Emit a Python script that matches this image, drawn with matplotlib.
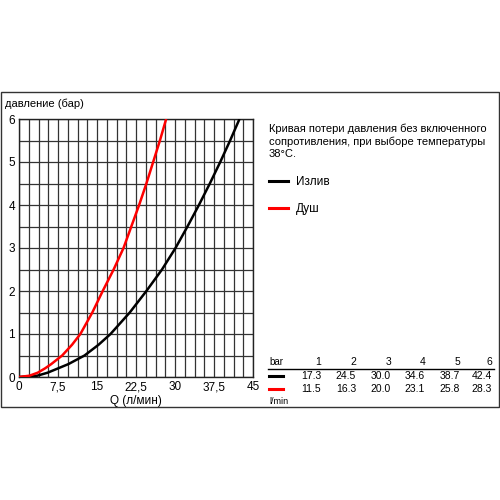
import numpy as np
import matplotlib
matplotlib.use("Agg")
import matplotlib.pyplot as plt
from matplotlib.patches import Rectangle
from matplotlib.lines import Line2D

plt.rcParams['font.family'] = ['Liberation Sans', 'DejaVu Sans']

# curve points (pressure in bar vs flow in l/min)
pressure = [0, 0.03, 0.1, 0.2, 0.3, 0.5, 0.75, 1, 1.5, 2, 2.5, 3, 3.5, 4, 4.5, 5, 5.5, 6]
q_spout = [0, 3.5, 5.5, 7.5, 9.5, 12.6, 15.3, 17.6, 21.3, 24.5, 27.5, 30.1, 32.4, 34.6, 36.7, 38.7, 40.6, 42.4]
q_shower = [0, 2.0, 3.6, 5.0, 6.2, 8.3, 10.2, 11.8, 14.1, 16.1, 18.2, 20.1, 21.6, 23.1, 24.5, 25.8, 27.1, 28.3]

# table on the right
table_bar = ['1', '2', '3', '4', '5', '6']
table_spout = ['17.3', '24.5', '30.0', '34.6', '38.7', '42.4']
table_shower = ['11.5', '16.3', '20.0', '23.1', '25.8', '28.3']

x_ticks = [0, 7.5, 15, 22.5, 30, 37.5, 45]
x_ticklabels = ['0', '7,5', '15', '22,5', '30', '37,5', '45']
y_ticks = [0, 1, 2, 3, 4, 5, 6]

W, H = 500, 500
fig = plt.figure(figsize=(5, 5), dpi=100)

def fx(px):
    return px / W

def fy(py):
    return 1 - py / H

# outer frame
fig.patches.append(Rectangle((fx(0.5), fy(407)), fx(498.5), (407 - 92) / H,
                             transform=fig.transFigure, fill=False,
                             edgecolor='#333333', linewidth=1.0))

ax = fig.add_axes([fx(19), fy(377), fx(253 - 19), (377 - 119) / H])
ax.set_xlim(0, 45)
ax.set_ylim(0, 6)

for gx in np.arange(0, 45.01, 1.875):
    ax.axvline(gx, color='#333333', linewidth=0.9, zorder=1)
for gy in np.arange(0, 6.01, 0.5):
    ax.axhline(gy, color='#333333', linewidth=0.9, zorder=1)

ax.plot(q_spout, pressure, color='black', linewidth=1.8, zorder=3, solid_capstyle='butt')
ax.plot(q_shower, pressure, color='red', linewidth=1.8, zorder=4, solid_capstyle='butt')

ax.set_xticks(x_ticks)
ax.set_xticklabels(x_ticklabels)
ax.set_yticks(y_ticks)
ax.tick_params(length=0, labelsize=8.5, pad=3)
for s in ax.spines.values():
    s.set_linewidth(1.0)
    s.set_color('#222222')
ax.set_xlabel('Q (л/мин)', fontsize=8.5, labelpad=1)

fig.text(fx(5), fy(104), 'давление (бар)', fontsize=8, va='center', ha='left')

# description and legend
fig.text(fx(269), fy(141), 'Кривая потери давления без включенного\nсопротивления, при выборе температуры\n38°C.',
         fontsize=8, va='center', ha='left', linespacing=1.3)
fig.add_artist(Line2D([fx(269), fx(288)], [fy(181), fy(181)], color='black', linewidth=2.2))
fig.text(fx(296), fy(182), 'Излив', fontsize=8.5, va='center', ha='left')
fig.add_artist(Line2D([fx(269), fx(288)], [fy(208), fy(208)], color='red', linewidth=2.2))
fig.text(fx(296), fy(209), 'Душ', fontsize=8.5, va='center', ha='left')

# table
col_right = [321, 356, 391, 425, 460, 492]
fig.text(fx(269), fy(362), 'bar', fontsize=7, va='center', ha='left')
fig.add_artist(Line2D([fx(268), fx(494)], [fy(369), fy(369)], color='black', linewidth=1.0))
fig.add_artist(Line2D([fx(269), fx(283)], [fy(375.5), fy(375.5)], color='black', linewidth=2.2))
fig.add_artist(Line2D([fx(269), fx(283)], [fy(388.5), fy(388.5)], color='red', linewidth=2.2))
for i, cx in enumerate(col_right):
    fig.text(fx(cx), fy(362), table_bar[i], fontsize=7.5, va='center', ha='right')
    fig.text(fx(cx), fy(376), table_spout[i], fontsize=7.5, va='center', ha='right')
    fig.text(fx(cx), fy(389), table_shower[i], fontsize=7.5, va='center', ha='right')
fig.text(fx(269), fy(402), 'l/min', fontsize=6.5, va='center', ha='left')

fig.savefig('out.png', dpi=100)
